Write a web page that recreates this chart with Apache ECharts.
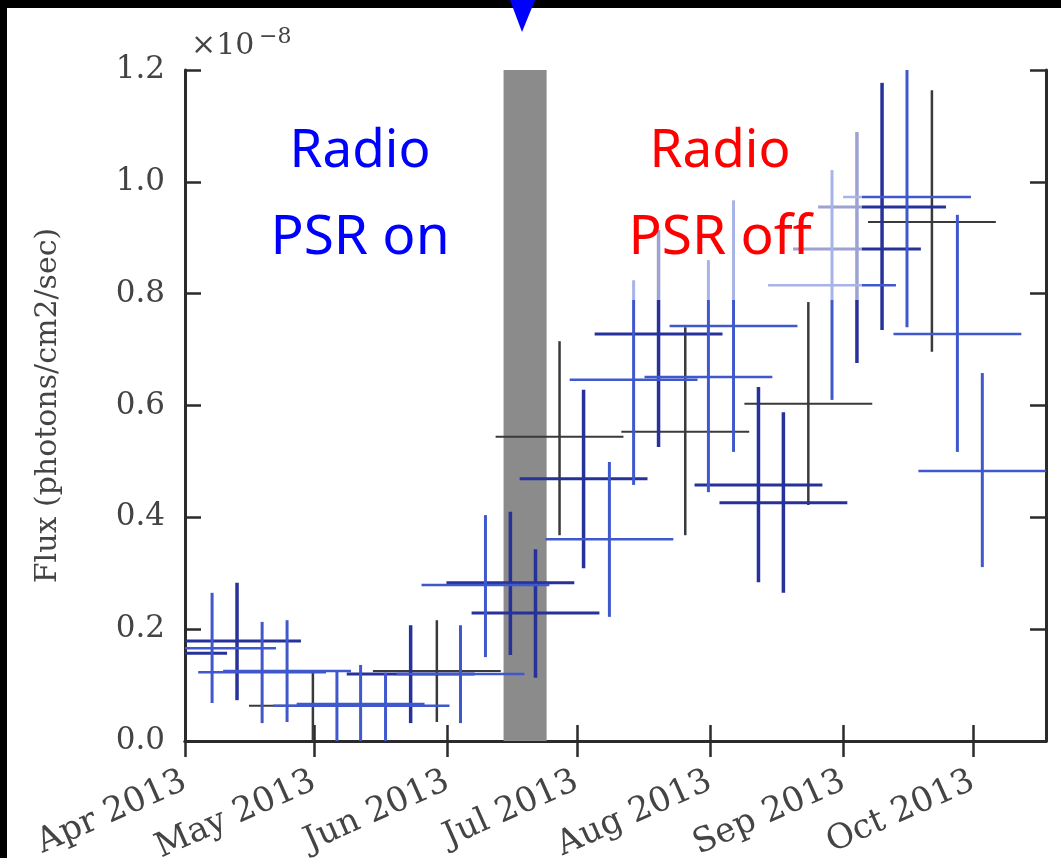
<!DOCTYPE html>
<html><head><meta charset="utf-8">
<script src="https://cdn.jsdelivr.net/npm/echarts@6/dist/echarts.min.js"></script>
<style>html,body{margin:0;padding:0;background:#000;}#c{width:1061px;height:858px;}</style>
</head><body><div id="c"></div>
<script>
// ---------- data ----------
const monthTicks = ['2013-04-01T00:00','2013-05-01T00:00','2013-06-01T00:00','2013-07-01T00:00','2013-08-01T00:00','2013-09-01T00:00','2013-10-01T00:00'];
const monthLabels = ['Apr 2013','May 2013','Jun 2013','Jul 2013','Aug 2013','Sep 2013','Oct 2013'];
const yTicks = [0, 0.2, 0.4, 0.6, 0.8, 1.0, 1.2];
const xStart = '2013-04-01T00:00';
const xEnd = '2013-10-18T00:00';
const offBand = ['2013-06-14T00:00', '2013-06-24T00:00'];
const binHalfWidthDays = 14.85;

// dark navy analysis
const navyDates = ['2013-03-26T22:00','2013-04-13T02:00','2013-05-23T10:00','2013-06-15T14:00','2013-06-21T10:00','2013-07-02T14:00','2013-07-20T00:00','2013-08-12T05:00','2013-08-18T00:00','2013-09-04T02:00','2013-09-09T22:00'];
const navyFlux  = [0.157, 0.179, 0.120, 0.283, 0.229, 0.469, 0.728, 0.458, 0.426, 0.880, 0.955];
const navyLow   = [0.060, 0.073, 0.032, 0.154, 0.113, 0.309, 0.526, 0.284, 0.265, 0.676, 0.735];
const navyHigh  = [0.255, 0.283, 0.207, 0.410, 0.343, 0.628, 0.914, 0.633, 0.588, 1.089, 1.177];

// blue analysis
const blueDates = ['2013-04-07T07:00','2013-04-18T22:00','2013-04-24T17:00','2013-05-06T07:00','2013-05-11T19:00','2013-05-17T14:00','2013-06-04T00:00','2013-06-09T19:00','2013-07-08T14:00','2013-07-14T05:00','2013-07-31T14:00','2013-08-06T10:00','2013-08-29T07:00','2013-09-15T17:00','2013-09-27T10:00','2013-10-03T05:00'];
const blueFlux  = [0.166, 0.123, 0.125, 0.063, 0.066, 0.063, 0.120, 0.279, 0.361, 0.646, 0.651, 0.742, 0.815, 0.973, 0.728, 0.483];
const blueLow   = [0.068, 0.032, 0.034, 0.000, 0.000, 0.000, 0.032, 0.150, 0.222, 0.458, 0.445, 0.517, 0.610, 0.740, 0.517, 0.311];
const blueHigh  = [0.265, 0.213, 0.216, 0.127, 0.136, 0.122, 0.207, 0.404, 0.499, 0.824, 0.860, 0.967, 1.021, 1.215, 0.941, 0.658];

// black (monthly) analysis
const blackDates = ['2013-04-30T17:00','2013-05-29T12:00','2013-06-27T00:00','2013-07-26T05:00','2013-08-23T19:00','2013-09-21T12:00'];
const blackFlux  = [0.063, 0.125, 0.544, 0.553, 0.603, 0.928];
const blackLow   = [0.000, 0.034, 0.368, 0.368, 0.422, 0.696];
const blackHigh  = [0.122, 0.216, 0.715, 0.740, 0.785, 1.164];

// ---------- build ----------
const T = s => new Date(s).getTime();
const DAY = 86400000;
function rows(dates, flux, lo, hi) {
  return dates.map((d, i) => {
    const t = T(d);
    return [t, t - binHalfWidthDays * DAY, t + binHalfWidthDays * DAY, flux[i], lo[i], hi[i]];
  });
}
const labelMap = {};
monthTicks.forEach((m, i) => { labelMap[T(m)] = monthLabels[i]; });

function crossRenderer(color, width) {
  return function (params, api) {
    const x = api.value(0), y = api.value(3);
    const pL = api.coord([api.value(1), y]);
    const pR = api.coord([api.value(2), y]);
    const pB = api.coord([x, api.value(4)]);
    const pT = api.coord([x, api.value(5)]);
    return {
      type: 'group',
      children: [
        { type: 'line', shape: { x1: pL[0], y1: pL[1], x2: pR[0], y2: pR[1] }, style: { stroke: color, lineWidth: width - 0.5 } },
        { type: 'line', shape: { x1: pB[0], y1: pB[1], x2: pT[0], y2: pT[1] }, style: { stroke: color, lineWidth: width } }
      ]
    };
  };
}

const serif = '"DejaVu Serif", "Liberation Serif", serif';
const ink = '#444444';
const frame = { show: true, lineStyle: { color: '#2b2b2b', width: 3 } };
const tickX = { show: true, inside: true, length: 16, lineStyle: { color: '#2b2b2b', width: 2.5 }, customValues: monthTicks.map(T) };
const tickY = { show: true, inside: true, length: 16, lineStyle: { color: '#2b2b2b', width: 2.5 }, customValues: yTicks };

const chart = echarts.init(document.getElementById('c'));
chart.setOption({
  backgroundColor: 'transparent',
  animation: false,
  grid: { left: 185, right: 15, top: 70, bottom: 117, containLabel: false, outerBoundsMode: 'none', show: true, backgroundColor: '#fff', borderWidth: 0 },
  xAxis: [
    { type: 'value', min: T(xStart), max: T(xEnd), position: 'bottom',
      axisLine: frame, axisTick: tickX, splitLine: { show: false },
      axisLabel: { customValues: monthTicks.map(T), rotate: 24, margin: 39, color: ink, fontFamily: serif, fontSize: 34,
        formatter: v => labelMap[v] || '' } },
    { type: 'value', min: T(xStart), max: T(xEnd), position: 'top',
      axisLine: frame, axisTick: tickX, axisLabel: { show: false }, splitLine: { show: false } }
  ],
  yAxis: [
    { type: 'value', min: 0, max: 1.2, interval: 0.2, position: 'left',
      axisLine: frame, axisTick: tickY, splitLine: { show: false },
      axisLabel: { margin: 20, color: ink, fontFamily: serif, fontSize: 31, formatter: v => v.toFixed(1) },
      name: 'Flux (photons/cm2/sec)', nameLocation: 'middle', nameGap: 122,
      nameTextStyle: { color: ink, fontFamily: serif, fontSize: 30 } },
    { type: 'value', min: 0, max: 1.2, interval: 0.2, position: 'right',
      axisLine: frame, axisTick: tickY, axisLabel: { show: false }, splitLine: { show: false } }
  ],
  series: [
    { type: 'line', data: [], z: 1, silent: true,
      markArea: { silent: true, itemStyle: { color: '#8b8b8b' }, data: [[{ xAxis: T(offBand[0]) }, { xAxis: T(offBand[1]) }]] } },
    { type: 'custom', name: 'monthly', z: 3, clip: true, renderItem: crossRenderer('#3a3a3a', 2.5),
      encode: { x: [0, 1, 2], y: [3, 4, 5] }, data: rows(blackDates, blackFlux, blackLow, blackHigh) },
    { type: 'custom', name: 'navy', z: 4, clip: true, renderItem: crossRenderer('#27319a', 3.5),
      encode: { x: [0, 1, 2], y: [3, 4, 5] }, data: rows(navyDates, navyFlux, navyLow, navyHigh) },
    { type: 'custom', name: 'blue', z: 5, clip: true, renderItem: crossRenderer('#3f58cc', 3),
      encode: { x: [0, 1, 2], y: [3, 4, 5] }, data: rows(blueDates, blueFlux, blueLow, blueHigh) }
  ],
  graphic: [
    { type: 'rect', z: -100, silent: true, shape: { x: 7, y: 8, width: 1054, height: 850 }, style: { fill: '#fff' } },
    { type: 'rect', z: 50, silent: true, shape: { x: 600, y: 118, width: 262, height: 182 }, style: { fill: 'rgba(255,255,255,0.55)' } },
    { type: 'polygon', z: 60, silent: true, shape: { points: [[510, 0], [535, 0], [522, 32]] }, style: { fill: '#0000ff' } },
    { type: 'text', z: 60, silent: true, style: { x: 191, y: 61, text: '×10', fill: ink, fontFamily: serif, fontSize: 30, verticalAlign: 'bottom' } },
    { type: 'text', z: 60, silent: true, style: { x: 259, y: 48, text: '−8', fill: ink, fontFamily: serif, fontSize: 22, verticalAlign: 'bottom' } },
    { type: 'text', z: 60, silent: true, style: { x: 360, y: 152, text: 'Radio', fill: '#0000ff', fontFamily: '"Noto Sans", sans-serif', fontSize: 53, align: 'center', verticalAlign: 'middle' } },
    { type: 'text', z: 60, silent: true, style: { x: 360, y: 238, text: 'PSR on', fill: '#0000ff', fontFamily: '"Noto Sans", sans-serif', fontSize: 55, align: 'center', verticalAlign: 'middle' } },
    { type: 'text', z: 60, silent: true, style: { x: 720, y: 152, text: 'Radio', fill: '#ff0000', fontFamily: '"Noto Sans", sans-serif', fontSize: 53, align: 'center', verticalAlign: 'middle' } },
    { type: 'text', z: 60, silent: true, style: { x: 720, y: 238, text: 'PSR off', fill: '#ff0000', fontFamily: '"Noto Sans", sans-serif', fontSize: 55, align: 'center', verticalAlign: 'middle' } }
  ]
});
</script></body></html>
